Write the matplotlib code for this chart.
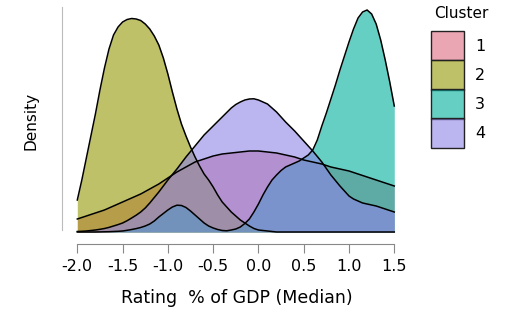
import numpy as np
import matplotlib.pyplot as plt
from matplotlib.patches import Rectangle

plt.rcParams['font.family'] = ['DejaVu Sans']
plt.rcParams['axes.unicode_minus'] = False

# grid of ratings the densities were read at (-2.0 ... 1.5, step 0.05)
rating = np.round(np.arange(-2.0, 1.525, 0.05), 2)

clusters = ['1', '2', '3', '4']

# density values (same arbitrary units)
dens_1 = [0.13, 0.145, 0.16, 0.175, 0.19, 0.205, 0.22, 0.24, 0.26, 0.28,
          0.30, 0.32, 0.34, 0.36, 0.38, 0.405, 0.43, 0.455, 0.48, 0.51,
          0.54, 0.57, 0.60, 0.625, 0.65, 0.675, 0.70, 0.715, 0.73, 0.745,
          0.76, 0.77, 0.78, 0.785, 0.79, 0.795, 0.80, 0.805, 0.81, 0.81,
          0.81, 0.805, 0.80, 0.795, 0.79, 0.78, 0.77, 0.76, 0.75, 0.735,
          0.72, 0.71, 0.70, 0.69, 0.68, 0.665, 0.65, 0.64, 0.63, 0.62,
          0.61, 0.595, 0.58, 0.565, 0.55, 0.535, 0.52, 0.505, 0.49, 0.475,
          0.46]
dens_2 = [0.32, 0.52, 0.74, 0.96, 1.18, 1.42, 1.64, 1.83, 1.97, 2.05,
          2.10, 2.125, 2.135, 2.13, 2.115, 2.08, 2.03, 1.96, 1.87, 1.74,
          1.58, 1.40, 1.23, 1.08, 0.96, 0.85, 0.75, 0.66, 0.58, 0.52,
          0.45, 0.37, 0.30, 0.25, 0.20, 0.16, 0.12, 0.09, 0.06, 0.035,
          0.02, 0.015, 0.01, 0.005, 0, 0, 0, 0, 0, 0,
          0, 0, 0, 0, 0, 0, 0, 0, 0, 0,
          0, 0, 0, 0, 0, 0, 0, 0, 0, 0,
          0]
dens_3 = [0, 0, 0, 0, 0, 0.001, 0.002, 0.003, 0.005, 0.007,
          0.01, 0.017, 0.025, 0.034, 0.045, 0.06, 0.08, 0.11, 0.15, 0.185,
          0.22, 0.25, 0.268, 0.265, 0.245, 0.21, 0.17, 0.13, 0.09, 0.06,
          0.04, 0.025, 0.015, 0.012, 0.02, 0.03, 0.05, 0.085, 0.13, 0.20,
          0.28, 0.37, 0.45, 0.52, 0.57, 0.615, 0.65, 0.67, 0.69, 0.71,
          0.74, 0.77, 0.82, 0.92, 1.06, 1.19, 1.33, 1.47, 1.62, 1.76,
          1.90, 2.03, 2.14, 2.20, 2.22, 2.18, 2.08, 1.92, 1.72, 1.50,
          1.26]
dens_4 = [0.005, 0.007, 0.01, 0.015, 0.02, 0.027, 0.035, 0.046, 0.06, 0.074,
          0.09, 0.113, 0.14, 0.168, 0.20, 0.24, 0.29, 0.345, 0.40, 0.46,
          0.52, 0.575, 0.63, 0.69, 0.75, 0.805, 0.86, 0.915, 0.97, 1.015,
          1.06, 1.105, 1.15, 1.195, 1.24, 1.275, 1.30, 1.32, 1.33, 1.332,
          1.32, 1.30, 1.28, 1.24, 1.20, 1.15, 1.10, 1.055, 1.01, 0.96,
          0.91, 0.86, 0.81, 0.755, 0.70, 0.635, 0.57, 0.515, 0.46, 0.41,
          0.36, 0.33, 0.31, 0.29, 0.28, 0.27, 0.26, 0.245, 0.23, 0.215,
          0.20]

tick_vals = [-2.0, -1.5, -1.0, -0.5, 0.0, 0.5, 1.0, 1.5]
tick_labels = ['-2.0', '-1.5', '-1.0', '-0.5', '0.0', '0.5', '1.0', '1.5']

colors = ['#df6b82', '#939803', '#00af9d', '#8f84e6']
alpha = 0.6

W, H = 508, 311
fig = plt.figure(figsize=(W / 100, H / 100), dpi=100)
ax = fig.add_axes([62 / W, 1 - 235 / H, 335 / W, 230 / H])

for dens, col in zip([dens_1, dens_2, dens_3, dens_4], colors):
    ax.fill_between(rating, 0, dens, color=col, alpha=alpha, lw=0)
    ax.plot(rating, dens, color='black', lw=1.1)

ax.set_xlim(-2.169, 1.53)
ax.set_ylim(-0.03, 2.27)

ax.spines['top'].set_visible(False)
ax.spines['right'].set_visible(False)
ax.spines['left'].set_color('#bbbbbb')
ax.spines['left'].set_bounds(0.02, 2.25)
ax.spines['bottom'].set_position(('outward', 6.5))
ax.spines['bottom'].set_bounds(-2.0, 1.5)
ax.spines['bottom'].set_color('#888888')

ax.set_yticks([])
ax.set_xticks(tick_vals, tick_labels)
ax.tick_params(axis='x', length=6.5, width=0.8, color='#888888', pad=4, labelsize=11.5)

fig.text(31 / W, 1 - 121 / H, 'Density', rotation=90, ha='center', va='center', fontsize=11)
fig.text(237 / W, 1 - 298 / H, 'Rating  % of GDP (Median)', ha='center', va='center', fontsize=12.5)

# legend
fig.text(461 / W, 1 - 14 / H, 'Cluster', ha='center', va='center', fontsize=11)
box_top = [31, 60, 89, 118]
box_h = 29.5
for lab, col, top in zip(clusters, colors, box_top):
    rgba = plt.matplotlib.colors.to_rgba(col, alpha)
    fig.add_artist(Rectangle((431 / W, 1 - (top + box_h) / H), 33 / W, box_h / H,
                             transform=fig.transFigure, facecolor=rgba,
                             edgecolor='#222222', lw=1.0))
    fig.text(480 / W, 1 - (top + box_h / 2 + 1) / H, lab, ha='center', va='center', fontsize=11.5)

fig.savefig('out.png', dpi=100)
